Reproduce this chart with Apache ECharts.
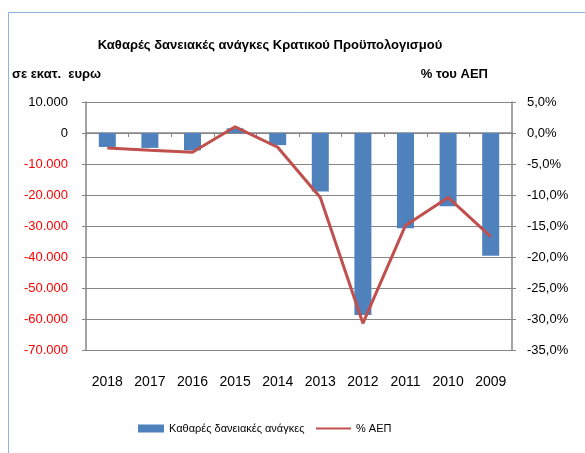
<!DOCTYPE html>
<html>
<head>
<meta charset="utf-8">
<script src="https://cdn.jsdelivr.net/npm/echarts@6/dist/echarts.min.js"></script>
<style>
  html, body { margin: 0; padding: 0; background: #fff; }
  #chart { width: 585px; height: 453px; }
</style>
</head>
<body>
<div id="chart"></div>
<script>
'use strict';
var years = ['2018', '2017', '2016', '2015', '2014', '2013', '2012', '2011', '2010', '2009'],
		needs = [-4500, -4800, -5600, 1500, -3900, -18900, -58700, -30700, -23600, -39600],
		pctGdp = [-2.4, -2.8, -3.1, 1.0, -2.3, -10.4, -30.7, -14.9, -10.4, -16.7],
		barName = 'Καθαρές δανειακές ανάγκες',
		lineName = '% ΑΕΠ';

var font = 'Liberation Sans',
		grey = '#868686';

function fmtThousands(v) {
	var s = Math.abs(v).toString().replace(/\B(?=(\d{3})+(?!\d))/g, '.');
	return (v < 0 ? '-' : '') + s;
}

var chart = echarts.init(document.getElementById('chart'));

chart.setOption({
	animation: false,
	textStyle: { fontFamily: font },
	graphic: [
		{
			type: 'rect',
			shape: { x: 8.5, y: 12.5, width: 700, height: 600 },
			style: { fill: 'none', stroke: '#8db3e2', lineWidth: 1 },
			silent: true
		},
		{
			type: 'text', left: 12, top: 68,
			style: { text: 'σε εκατ.  ευρω', font: 'bold 13px ' + font, fill: '#000' }
		},
		{
			type: 'text', right: 97, top: 68,
			style: { text: '% του ΑΕΠ', font: 'bold 13px ' + font, fill: '#000' }
		}
	],
	title: {
		text: 'Καθαρές δανειακές ανάγκες Κρατικού Προϋπολογισμού',
		left: 265, textAlign: 'center', top: 34,
		textStyle: { fontFamily: font, fontSize: 13, fontWeight: 'bold', color: '#000' }
	},
	legend: [
		{
			left: 133, top: 418,
			itemWidth: 26, itemHeight: 8, itemGap: 4,
			textStyle: { fontFamily: font, fontSize: 11, color: '#000' },
			data: [{ name: barName, icon: 'rect' }]
		},
		{
			left: 311, top: 418,
			itemWidth: 35, itemHeight: 2,
			textStyle: { fontFamily: font, fontSize: 11, color: '#000' },
			data: [{ name: lineName, icon: 'rect' }]
		}
	],
	grid: { left: 86, right: 73, top: 102, bottom: 103 },
	xAxis: [
		{
			type: 'category',
			data: years,
			axisLine: { onZero: true, lineStyle: { color: grey, width: 1.5 } },
			axisTick: { show: true, length: 4, lineStyle: { color: grey } },
			axisLabel: { show: false }
		},
		{
			type: 'category',
			data: years,
			position: 'bottom',
			axisLine: { show: false, onZero: false },
			axisTick: { show: false },
			axisLabel: { margin: 25, fontFamily: font, fontSize: 14, color: '#000' }
		}
	],
	yAxis: [
		{
			type: 'value',
			min: -70000, max: 10000, interval: 10000,
			axisLine: { show: true, lineStyle: { color: grey, width: 1.5 } },
			axisTick: { show: true, length: 4, lineStyle: { color: grey } },
			splitLine: { lineStyle: { color: grey, width: 1 } },
			axisLabel: {
				margin: 18, fontSize: 13,
				formatter: fmtThousands,
				color: function (v) { return v < 0 ? '#ff0000' : '#000'; }
			}
		},
		{
			type: 'value',
			min: -35, max: 5, interval: 5,
			axisLine: { show: true, lineStyle: { color: grey, width: 1.5 } },
			axisTick: { show: true, length: 4, lineStyle: { color: grey } },
			splitLine: { show: false },
			axisLabel: {
				margin: 15, fontSize: 13, color: '#000',
				formatter: function (v) { return v.toFixed(1).replace('.', ',') + '%'; }
			}
		}
	],
	series: [
		{
			name: barName,
			type: 'bar',
			data: needs,
			barWidth: 17,
			itemStyle: { color: '#4f81bd' }
		},
		{
			name: lineName,
			type: 'line',
			yAxisIndex: 1,
			data: pctGdp,
			symbol: 'none',
			lineStyle: { color: '#c0504d', width: 3 },
			itemStyle: { color: '#c0504d' }
		}
	]
});
</script>
</body>
</html>
